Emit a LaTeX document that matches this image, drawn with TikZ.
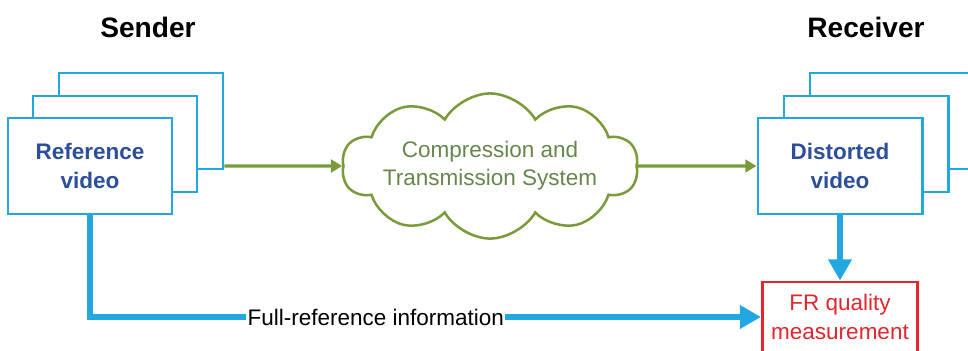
\documentclass[tikz,border=0pt]{standalone}
\usepackage{fontspec}
\setmainfont{Liberation Sans}
\usetikzlibrary{shapes.symbols,arrows.meta}
\definecolor{boxblue}{HTML}{22A7E0}
\definecolor{textblue}{HTML}{2C4F9C}
\definecolor{cloudgreen}{HTML}{7A9B3A}
\definecolor{cloudtext}{HTML}{66864A}
\definecolor{frred}{HTML}{E2262B}
\begin{document}
\begin{tikzpicture}[x=0.025cm,y=0.025cm]
    \tikzstyle{frame}=[draw=boxblue,line width=2.1pt,fill=white,minimum width=4.1cm,minimum height=2.4cm,
      font=\fontsize{16}{20}\selectfont\bfseries,text=textblue,align=center];
    \tikzstyle{title}=[font=\fontsize{20}{24}\selectfont\bfseries];
    \tikzstyle{flow}=[draw=cloudgreen,line width=2.3pt,-{Triangle[length=8pt,width=9pt]}];
    \tikzstyle{info}=[draw=boxblue,line width=4.3pt,-{Triangle[length=15pt,width=16pt]}];
    \clip (0,0) rectangle (968,-350);

    \node at (148,-27) (sender) [title] {Sender};
    \node at (866,-27) (receiver) [title] {Receiver};

    \node at (141,-121) (lback) [frame] {};
    \node at (115,-144) (lmid) [frame] {};
    \node at (90,-166) (lref) [frame] {Reference\\video};

    \node at (892,-121) (rback) [frame] {};
    \node at (866,-144) (rmid) [frame] {};
    \node at (840,-166) (rdist) [frame] {Distorted\\video};

    \node at (490,-166) (cloud) [draw=cloudgreen,line width=1.8pt,cloud,cloud puffs=10,cloud puff arc=120,
      aspect=3,inner sep=-2.5pt,align=center,text=cloudtext,
      font=\fontsize{16}{20}\selectfont] {Compression and\\Transmission System};

    \node at (840,-317) (frbox) [draw=frred,line width=2.1pt,minimum width=3.875cm,minimum height=1.75cm,
      align=center,text=frred,font=\fontsize{16}{20}\selectfont] {FR quality\\measurement};

    \draw[flow] (lback.east |- lref) to (cloud.west);
    \draw[flow] (cloud.east) to (rdist.west);
    \draw[info] (rdist.south) to (frbox.north);
    \draw[info] (lref.south) |- node[pos=0.713,fill=white,inner sep=1pt,text=black,
      font=\fontsize{16}{20}\selectfont] (fullref) {Full-reference information} (frbox.west);
\end{tikzpicture}
\end{document}
